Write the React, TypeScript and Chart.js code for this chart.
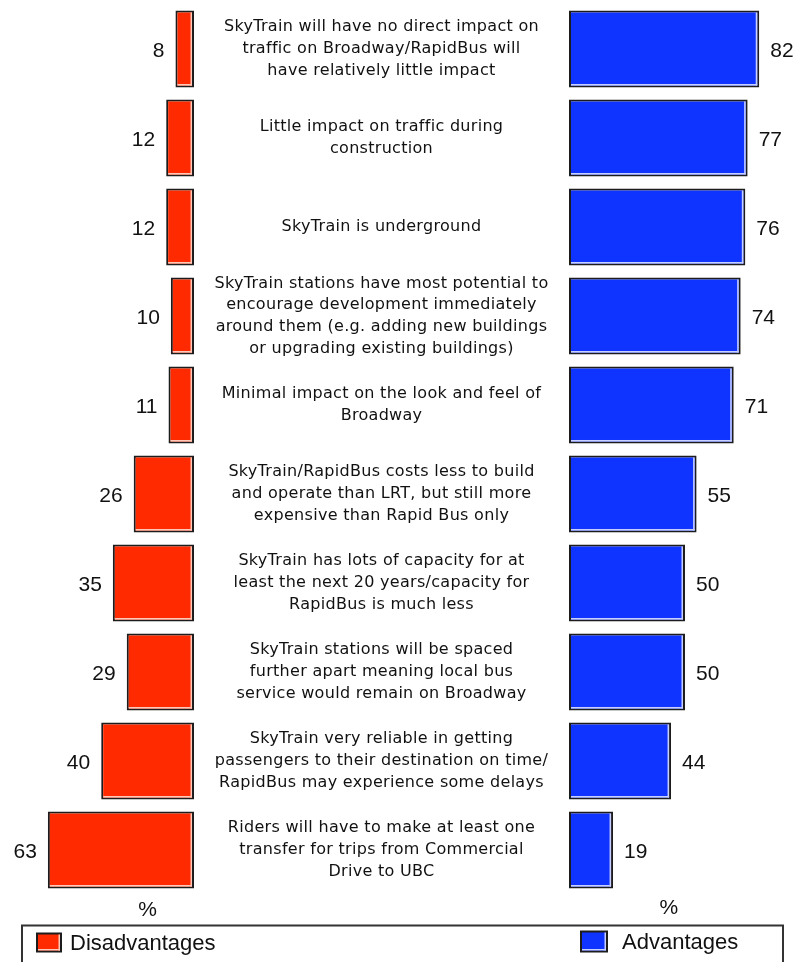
import React, { useEffect, useRef } from "react";
import { Chart, registerables } from "chart.js";

Chart.register(...registerables);

const categories: string[][] = [
  ["SkyTrain will have no direct impact on", "traffic on Broadway/RapidBus will", "have relatively little impact"],
  ["Little impact on traffic during", "construction"],
  ["SkyTrain is underground"],
  ["SkyTrain stations have most potential to", "encourage development immediately", "around them (e.g. adding new buildings", "or upgrading existing buildings)"],
  ["Minimal impact on the look and feel of", "Broadway"],
  ["SkyTrain/RapidBus costs less to build", "and operate than LRT, but still more", "expensive than Rapid Bus only"],
  ["SkyTrain has lots of capacity for at", "least the next 20 years/capacity for", "RapidBus is much less"],
  ["SkyTrain stations will be spaced", "further apart meaning local bus", "service would remain on Broadway"],
  ["SkyTrain very reliable in getting", "passengers to their destination on time/", "RapidBus may experience some delays"],
  ["Riders will have to make at least one", "transfer for trips from Commercial", "Drive to UBC"],
];

const disadvantages: number[] = [8, 12, 12, 10, 11, 26, 35, 29, 40, 63];
const advantages: number[] = [82, 77, 76, 74, 71, 55, 50, 50, 44, 19];

const seriesNames = ["Disadvantages", "Advantages"];
const axisUnit = "%";

const RED = "#ff2a00";
const BLUE = "#1034ff";
const RED_HL = "#ffc8b8";
const BLUE_HL = "#c8d0ff";
const EDGE = "#1c1c1c";

const overlayPlugin = {
  id: "overlay",
  afterDatasetsDraw(chart: any) {
    const ctx = chart.ctx as CanvasRenderingContext2D;
    const hls = [RED_HL, BLUE_HL];
    ctx.save();
    // bar highlights + value labels
    chart.data.datasets.forEach((ds: any, di: number) => {
      const meta = chart.getDatasetMeta(di);
      meta.data.forEach((el: any, i: number) => {
        const { x, y, base, height } = el.getProps(["x", "y", "base", "height"], true);
        const left = Math.min(x, base);
        const right = Math.max(x, base);
        const top = y - height / 2;
        const bottom = y + height / 2;
        ctx.fillStyle = hls[di];
        ctx.fillRect(right - 3.5, top + 2, 1.5, height - 4);
        ctx.fillRect(left + 2, bottom - 3.5, right - left - 4, 1.5);
        ctx.fillStyle = "#111";
        ctx.font = '21px "Liberation Sans", Arial, sans-serif';
        ctx.textBaseline = "middle";
        const v = ds.data[i];
        if (di === 0) {
          ctx.textAlign = "right";
          ctx.fillText(String(v), left - 11, y + 2);
        } else {
          ctx.textAlign = "left";
          ctx.fillText(String(v), right + 11, y + 2);
        }
      });
    });

    // center category text
    const mid = chart.scales.xM;
    const yScale = chart.scales.y;
    const cx = (mid.left + mid.right) / 2;
    ctx.font = '16px "DejaVu Sans", Verdana, sans-serif';
    (ctx as any).letterSpacing = "0.3px";
    ctx.fillStyle = "#111";
    ctx.textAlign = "center";
    ctx.textBaseline = "middle";
    const lh = 21.7;
    categories.forEach((lines, i) => {
      const cy = yScale.getPixelForValue(i);
      const y0 = cy - ((lines.length - 1) * lh) / 2;
      lines.forEach((ln, k) => ctx.fillText(ln, cx, y0 + k * lh));
    });
    (ctx as any).letterSpacing = "0px";

    // percent signs
    const area = chart.chartArea;
    ctx.font = '21px "Liberation Sans", Arial, sans-serif';
    ctx.textAlign = "center";
    ctx.fillText(axisUnit, chart.scales.xL.getPixelForValue(20), area.bottom + 16);
    ctx.fillText(axisUnit, chart.scales.xR.getPixelForValue(43), area.bottom + 14);

    // legend box
    ctx.strokeStyle = "#333";
    ctx.lineWidth = 2;
    ctx.strokeRect(22, area.bottom + 31, chart.width - 36, 60);
    const sw = (x: number, y: number, w: number, h: number, fill: string, hl: string) => {
      ctx.fillStyle = EDGE;
      ctx.fillRect(x, y, w, h);
      ctx.fillStyle = fill;
      ctx.fillRect(x + 2, y + 2, w - 4, h - 4);
      ctx.fillStyle = hl;
      ctx.fillRect(x + w - 3.5, y + 2, 1.5, h - 4);
      ctx.fillRect(x + 2, y + h - 3.5, w - 4, 1.5);
    };
    const ly = area.bottom + 48;
    sw(36, ly - 10, 26, 20, RED, RED_HL);
    sw(580, ly - 12, 28, 22, BLUE, BLUE_HL);
    ctx.fillStyle = "#111";
    ctx.font = '22px "Liberation Sans", Arial, sans-serif';
    ctx.textAlign = "left";
    ctx.textBaseline = "middle";
    ctx.fillText(seriesNames[0], 70, ly + 1);
    ctx.fillText(seriesNames[1], 622, ly);
    ctx.restore();
  },
};

export default function App() {
  const ref = useRef<HTMLCanvasElement | null>(null);
  useEffect(() => {
    if (!ref.current) return;
    const chart = new Chart(ref.current, {
      type: "bar",
      data: {
        labels: categories.map((c) => c.join(" ")),
        datasets: [
          {
            label: seriesNames[0],
            data: disadvantages,
            xAxisID: "xL",
            backgroundColor: RED,
            borderColor: EDGE,
            borderWidth: 2,
            borderSkipped: false,
            grouped: false,
            barPercentage: 0.865,
            categoryPercentage: 1,
          } as any,
          {
            label: seriesNames[1],
            data: advantages,
            xAxisID: "xR",
            backgroundColor: BLUE,
            borderColor: EDGE,
            borderWidth: 2,
            borderSkipped: false,
            grouped: false,
            barPercentage: 0.865,
            categoryPercentage: 1,
          } as any,
        ],
      },
      options: {
        indexAxis: "y",
        responsive: false,
        animation: false,
        devicePixelRatio: 1,
        layout: { padding: { left: 31.6, right: 19.2, top: 4.5, bottom: 67.5 } },
        plugins: { legend: { display: false }, tooltip: { enabled: false } },
        scales: {
          xL: { type: "linear", axis: "x", position: "bottom", stack: "h", stackWeight: 70, weight: 0, min: 0, max: 70, reverse: true, display: false },
          xM: { type: "linear", axis: "x", position: "bottom", stack: "h", stackWeight: 161.6, weight: 1, min: 0, max: 1, display: false },
          xR: { type: "linear", axis: "x", position: "bottom", stack: "h", stackWeight: 90, weight: 2, min: 0, max: 90, display: false },
          y: { type: "category", display: false },
        } as any,
      },
      plugins: [overlayPlugin],
    });
    return () => chart.destroy();
  }, []);
  return (
    <div style={{ position: "absolute", left: 0, top: 0, width: 797, height: 962, background: "#fff" }}>
      <canvas ref={ref} width={797} height={962} style={{ width: 797, height: 962, display: "block" }} />
    </div>
  );
}
